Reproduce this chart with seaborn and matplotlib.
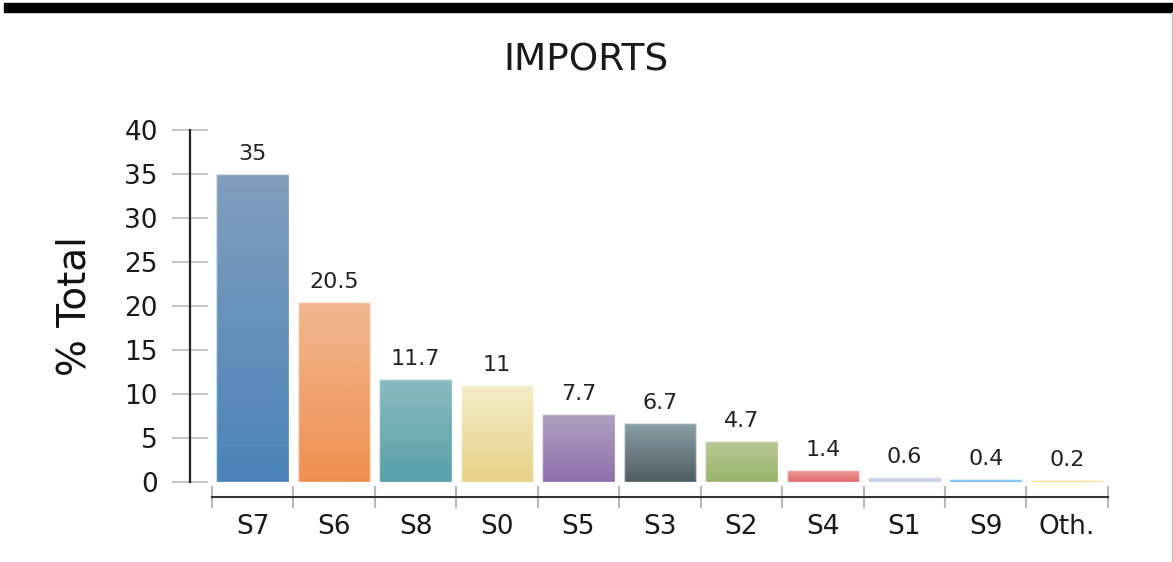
import matplotlib
matplotlib.use('Agg')
import matplotlib.pyplot as plt
import seaborn as sns
import numpy as np
import pandas as pd
from matplotlib.colors import LinearSegmentedColormap
from matplotlib.lines import Line2D
from matplotlib.patches import Rectangle

# chart data
categories = ['S7', 'S6', 'S8', 'S0', 'S5', 'S3', 'S2', 'S4', 'S1', 'S9', 'Oth.']
values = [35, 20.5, 11.7, 11, 7.7, 6.7, 4.7, 1.4, 0.6, 0.4, 0.2]
value_labels = ['35', '20.5', '11.7', '11', '7.7', '6.7', '4.7', '1.4', '0.6', '0.4', '0.2']
top_colors = ['#809fbd', '#f0b890', '#88bcc0', '#f5edc8', '#b0a0c0', '#8aa0a6',
              '#b8c898', '#e8a0a0', '#d4dcea', '#a8d8f8', '#fcecb0']
bottom_colors = ['#4a84b9', '#f09050', '#58a0a8', '#e6d185', '#9070ac', '#505c64',
                 '#98b468', '#e46c6c', '#c4d0e6', '#5cb0f4', '#f8c454']

sns.set_theme(style='white')
plt.rcParams['font.family'] = ['DejaVu Sans']

fig = plt.figure(figsize=(11.73, 5.62), dpi=100)
ax = fig.add_axes([0.1807, 0.1423, 0.7638, 0.6263])

data = pd.DataFrame({'Sector': categories, 'Share': values})
sns.barplot(data=data, x='Sector', y='Share', hue='Sector', palette=bottom_colors,
            width=0.89, legend=False, ax=ax)

# vertical gradient in each bar, light at top, darker at bottom
gradient = np.linspace(0, 1, 256).reshape(-1, 1)
for patch, c_top, c_bot, lab in zip(ax.patches, top_colors, bottom_colors, value_labels):
    x0, y0 = patch.get_x(), patch.get_y()
    w, h = patch.get_width(), patch.get_height()
    cmap = LinearSegmentedColormap.from_list('grad', [c_top, c_bot])
    im = ax.imshow(gradient, cmap=cmap, extent=[x0, x0 + w, y0, y0 + h],
                   origin='upper', aspect='auto', zorder=2)
    im.set_clip_path(patch)
    patch.set_facecolor('none')
    patch.set_edgecolor((1, 1, 1, 0.7))
    patch.set_linewidth(1)
    patch.set_zorder(3)
    ax.annotate(lab, (x0 + w / 2, y0 + h), xytext=(0, 10), textcoords='offset points',
                ha='center', va='baseline', fontsize=16, color='#222222')

ax.set_xlim(-0.5, 10.5)
ax.set_ylim(0, 40)

# axes styling (outward offsets are in points)
ax.spines['top'].set_visible(False)
ax.spines['right'].set_visible(False)
ax.spines['left'].set_position(('outward', 16))
ax.spines['left'].set_color('#222222')
ax.spines['left'].set_linewidth(1.6)
ax.spines['bottom'].set_position(('outward', 11))
ax.spines['bottom'].set_color('#333333')
ax.spines['bottom'].set_linewidth(1.5)

ax.set_yticks(range(0, 41, 5))
ax.tick_params(axis='y', left=True, direction='inout', length=26, width=1.2,
               color='#b8b8b8', pad=10, labelsize=19, labelcolor='#1a1a1a')

ax.set_xticks(np.arange(-0.5, 11, 1), minor=True)
ax.tick_params(axis='x', which='minor', bottom=True, direction='inout', length=16.5,
               width=1.5, color='#b8b8b8')
ax.tick_params(axis='x', which='major', length=0, pad=12, labelsize=19, labelcolor='#1a1a1a')

ax.set_xlabel('')
ax.set_ylabel('% Total', fontsize=28, color='#111111')
ax.yaxis.set_label_coords(-0.132, 0.5)

fig.text(0.4996, 0.893, 'IMPORTS', ha='center', va='center', fontsize=27, color='#1a1a1a')

# frame pieces around the chart
fig.add_artist(Rectangle((0.0034, 1 - 12 / 562), 1, 9 / 562, transform=fig.transFigure,
                         color='black'))
fig.add_artist(Line2D([1171.5 / 1173] * 2, [0, 1 - 12 / 562], transform=fig.transFigure,
                      color='#c0c0c0', lw=1))

fig.savefig('out.png', dpi=100)
